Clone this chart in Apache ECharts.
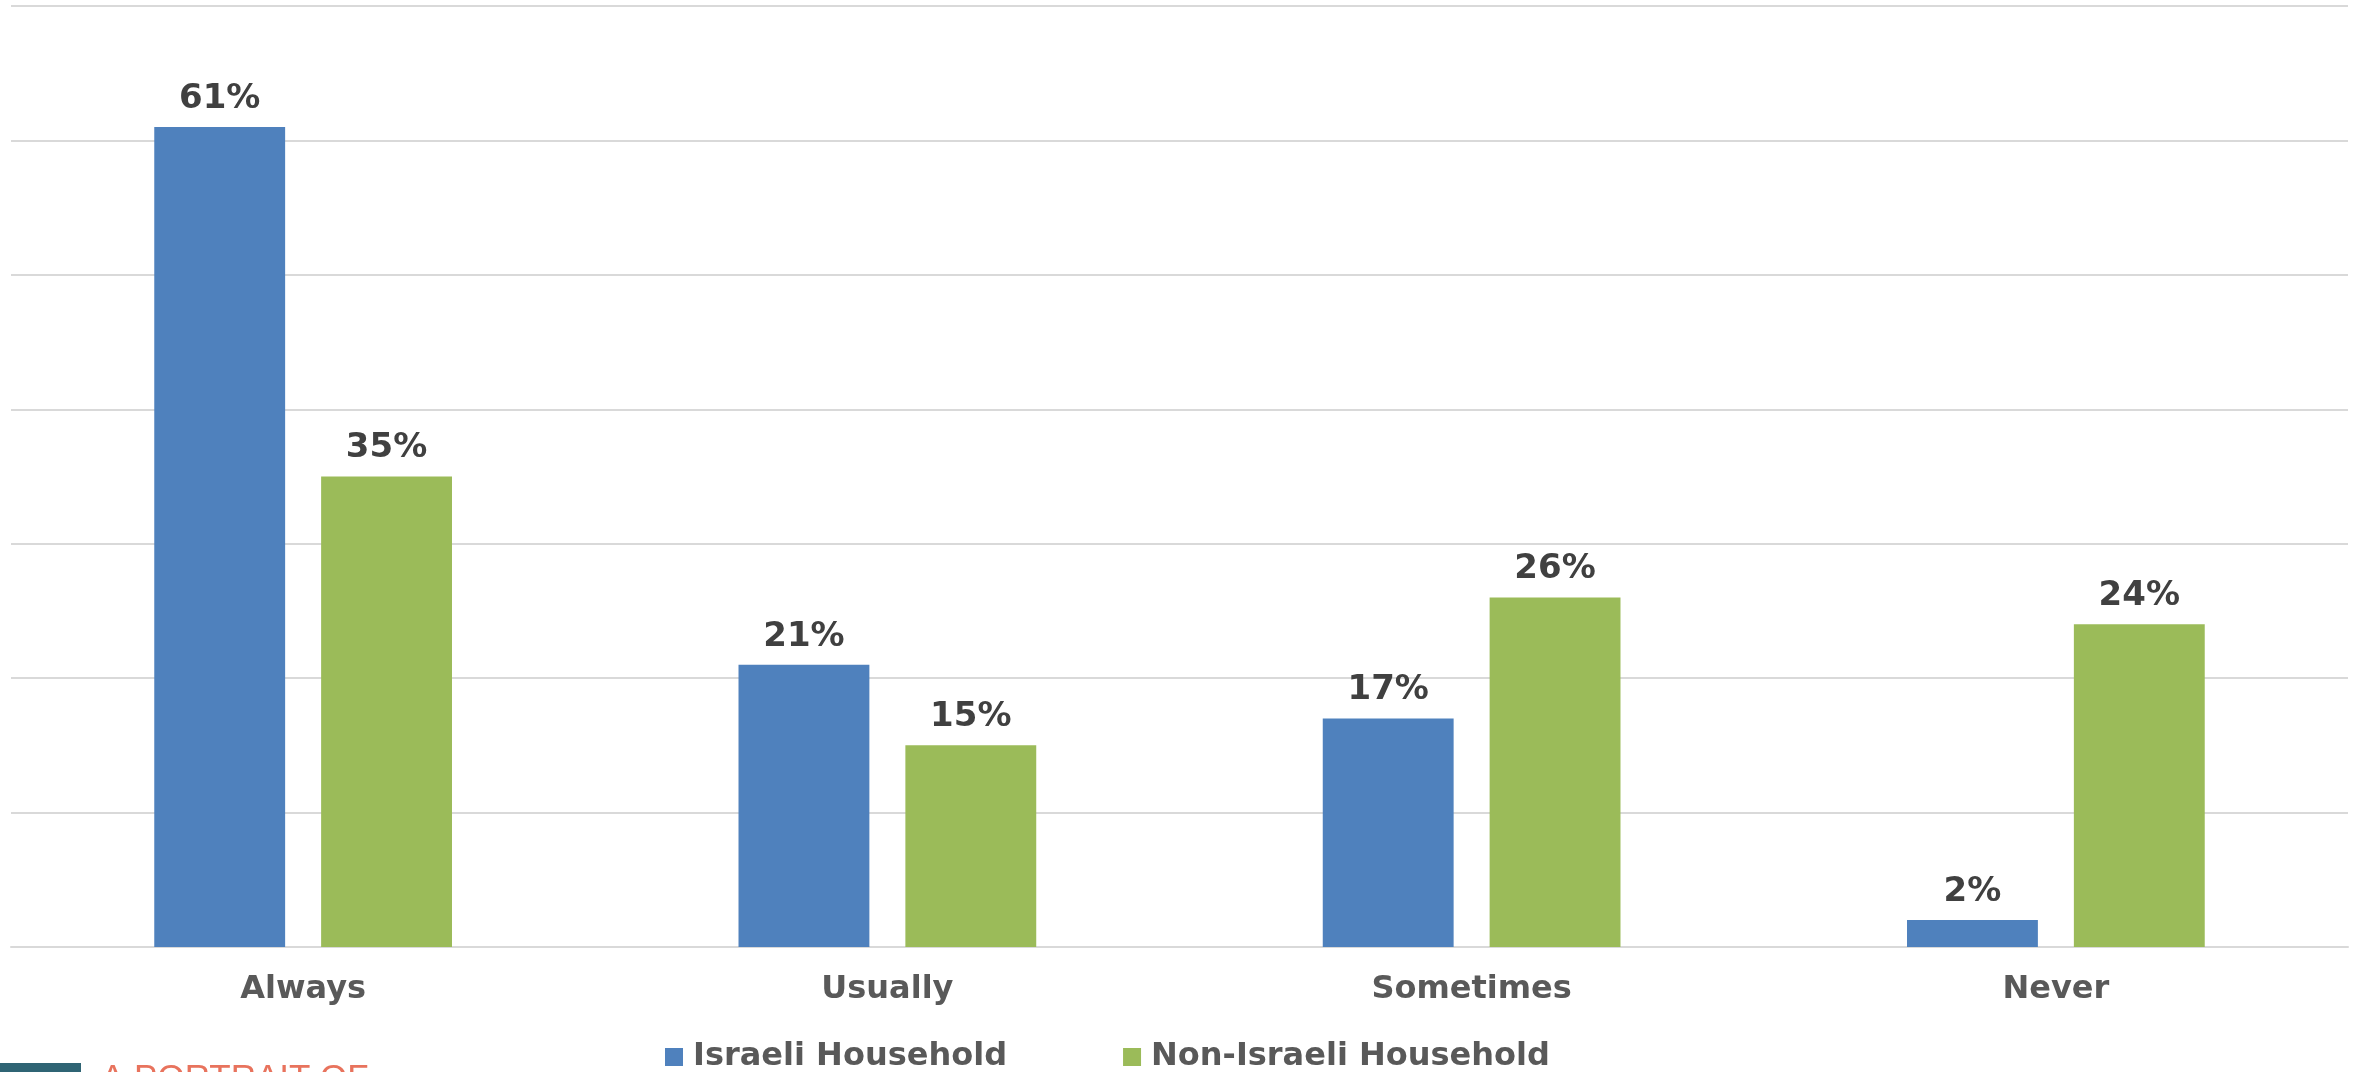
<!DOCTYPE html>
<html>
<head>
<meta charset="utf-8">
<script src="https://cdn.jsdelivr.net/npm/echarts@6/dist/echarts.min.js"></script>
<style>
html,body{margin:0;padding:0;background:#fff;}
#chart{width:2361px;height:1072px;}
</style>
</head>
<body>
<div id="chart"></div>
<script>
const categories = ['Always', 'Usually', 'Sometimes', 'Never'];
const israeli = [61, 21, 17, 2];
const nonIsraeli = [35, 15, 26, 24];
const seriesNames = ['Israeli Household', 'Non-Israeli Household'];

const chart = echarts.init(document.getElementById('chart'));
const FONT = '"DejaVu Sans", Verdana, sans-serif';
const labelCfg = {
  show: true,
  position: 'top',
  distance: 11,
  formatter: '{c}%',
  color: '#404040',
  fontFamily: FONT,
  fontWeight: 'bold',
  fontSize: 34
};
chart.setOption({
  animation: false,
  backgroundColor: '#ffffff',
  grid: { left: 11, right: 13, top: 6, bottom: 125, containLabel: false },
  legend: {
    left: 660,
    top: 1036,
    itemWidth: 18,
    itemHeight: 18,
    itemGap: 116,
    icon: 'rect',
    textStyle: { color: '#595959', fontFamily: FONT, fontWeight: 'bold', fontSize: 32, padding: [0, 0, 0, 5] },
    data: seriesNames
  },
  xAxis: {
    type: 'category',
    data: categories,
    axisLine: { lineStyle: { color: '#d9d9d9', width: 2 } },
    axisTick: { show: false },
    axisLabel: { color: '#595959', fontFamily: FONT, fontWeight: 'bold', fontSize: 32, margin: 27 }
  },
  yAxis: {
    type: 'value',
    min: 0, max: 70, interval: 10,
    axisLabel: { show: false },
    axisLine: { show: false },
    axisTick: { show: false },
    splitLine: { lineStyle: { color: '#d9d9d9', width: 2 } }
  },
  series: [
    { name: seriesNames[0], type: 'bar', data: israeli, barWidth: '22.4%', barGap: '27.5%',
      itemStyle: { color: '#4f81bd' }, label: labelCfg },
    { name: seriesNames[1], type: 'bar', data: nonIsraeli, barWidth: '22.4%', barGap: '27.5%',
      itemStyle: { color: '#9bbb59' }, label: labelCfg }
  ],
  graphic: [
    { type: 'rect', left: 0, top: 1063, shape: { width: 81, height: 20 }, style: { fill: '#2f6474' } },
    { type: 'text', left: 101, top: 1062, style: { text: 'A PORTRAIT OF', fill: '#e8735d', font: '35px "Liberation Sans", Arial, sans-serif' } }
  ]
});
</script>
</body>
</html>
